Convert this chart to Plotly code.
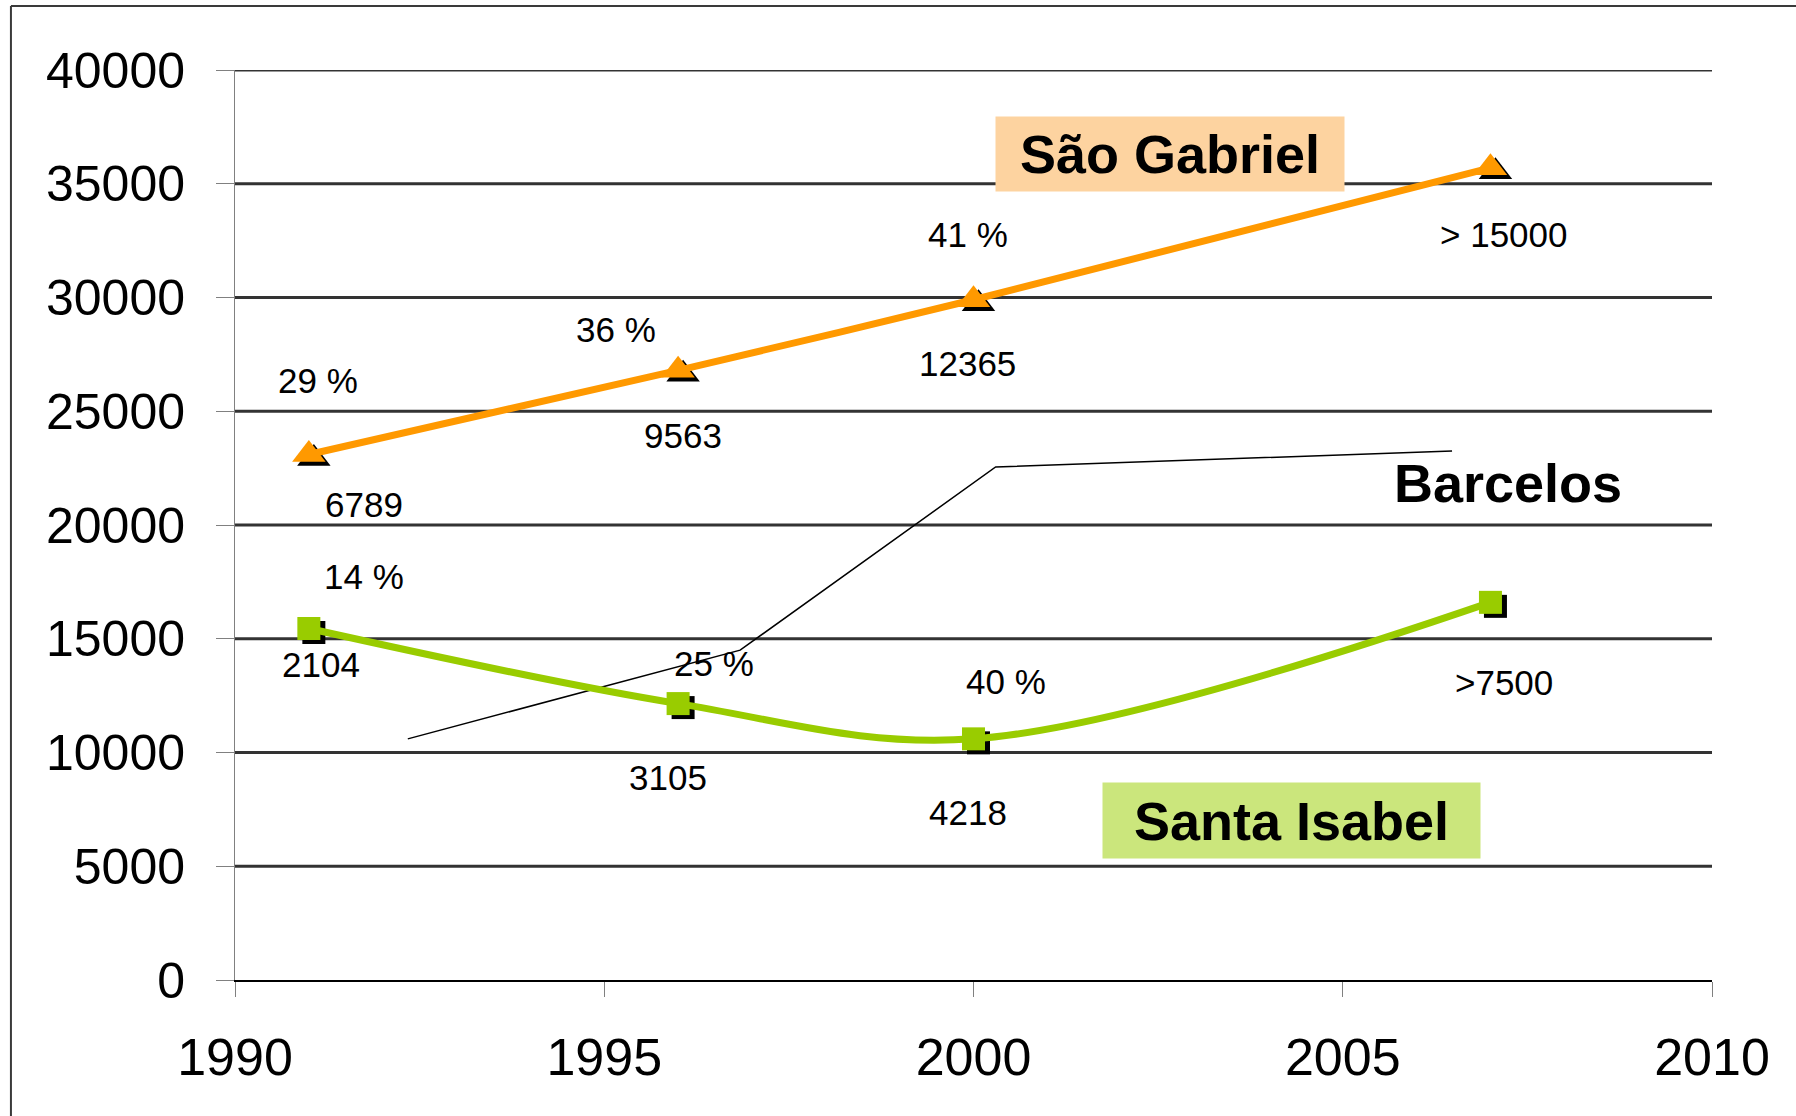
import plotly.graph_objects as go

# ---------------- data ----------------
years = [1991, 1996, 2000, 2007]
sao_gabriel = [23100, 26800, 29900, 35700]
santa_isabel = [15450, 12150, 10600, 16600]

sg_share = ["29 %", "36 %", "41 %"]
sg_counts = ["6789", "9563", "12365", "> 15000"]
si_share = ["14 %", "25 %", "40 %"]
si_counts = ["2104", "3105", "4218", ">7500"]

barcelos_years = [1992.34, 1996.84, 2000.3, 2006.48]
barcelos = [10600, 14500, 22550, 23250]

x_ticks = [1990, 1995, 2000, 2005, 2010]
y_ticks = [0, 5000, 10000, 15000, 20000, 25000, 30000, 35000, 40000]
y_tick_labels = ["0", "5000", "10000", "15000", "20000", "25000", "30000", "35000", "40000"]
x_tick_labels = ["1990", "1995", "2000", "2005", "2010"]

series_names = ["São Gabriel", "Santa Isabel", "Barcelos"]

# ---------------- style ----------------
ORANGE = "#FF9900"
GREEN = "#99CC00"
FONT = "Liberation Sans, Arial, sans-serif"
X_RANGE = [1990, 2010]
Y_RANGE = [0, 40000]
PX_PER_YEAR = 1477 / 20.0
UNITS_PER_PX = 40000 / 910.0
SH_X = 5 / PX_PER_YEAR      # shadow offset (right)
SH_Y = 4 * UNITS_PER_PX     # shadow offset (down)

fig = go.Figure()

# Barcelos (thin black line) on base axes
fig.add_trace(go.Scatter(x=barcelos_years, y=barcelos, mode="lines",
                         line=dict(color="black", width=1.5),
                         name=series_names[2], showlegend=False,
                         hoverinfo="skip"))

# marker shadows on shifted overlay axes
fig.add_trace(go.Scatter(x=years, y=sao_gabriel, mode="markers", xaxis="x2", yaxis="y2",
                         marker=dict(symbol="triangle-up", size=29, color="black"),
                         showlegend=False, hoverinfo="skip"))
fig.add_trace(go.Scatter(x=years, y=santa_isabel, mode="markers", xaxis="x2", yaxis="y2",
                         marker=dict(symbol="square", size=23, color="black"),
                         showlegend=False, hoverinfo="skip"))

# main series on an unshifted overlay
fig.add_trace(go.Scatter(x=years, y=sao_gabriel, mode="lines+markers", xaxis="x3", yaxis="y3",
                         line=dict(color=ORANGE, width=7, shape="spline", smoothing=0.8),
                         marker=dict(symbol="triangle-up", size=29, color=ORANGE),
                         name=series_names[0], showlegend=False))
fig.add_trace(go.Scatter(x=years, y=santa_isabel, mode="lines+markers", xaxis="x3", yaxis="y3",
                         line=dict(color=GREEN, width=7, shape="spline", smoothing=1.0),
                         marker=dict(symbol="square", size=23, color=GREEN),
                         name=series_names[1], showlegend=False))

# gridlines as shapes (from tick array)
shapes = []
for v in y_ticks[1:]:
    shapes.append(dict(type="line", xref="paper", yref="y", x0=0, x1=1, y0=v, y1=v,
                       line=dict(color="#333333", width=3), layer="below"))
# outer frame (left + top)
shapes.append(dict(type="line", xref="paper", yref="paper", x0=-0.1517, x1=-0.1517,
                   y0=-0.16, y1=1.0703, line=dict(color="#3a3a3a", width=2)))
shapes.append(dict(type="line", xref="paper", yref="paper", x0=-0.1517, x1=1.07,
                   y0=1.0703, y1=1.0703, line=dict(color="#3a3a3a", width=2)))

# data labels
ann = []
lab_font = dict(family=FONT, size=35, color="black")
sg_share_off = [(9, 74), (-62, 41), (-6, 65)]
sg_count_off = [(55, -50), (5, -65), (-6, -64), (14, -67)]
si_share_off = [(55, 52), (36, 40), (32, 57)]
si_count_off = [(12, -36), (-10, -74), (-6, -74), (14, -80)]
for i, t in enumerate(sg_share):
    ann.append(dict(x=years[i], y=sao_gabriel[i], xref="x", yref="y", text=t, showarrow=False,
                    xshift=sg_share_off[i][0], yshift=sg_share_off[i][1], font=lab_font))
for i, t in enumerate(sg_counts):
    ann.append(dict(x=years[i], y=sao_gabriel[i], xref="x", yref="y", text=t, showarrow=False,
                    xshift=sg_count_off[i][0], yshift=sg_count_off[i][1], font=lab_font))
for i, t in enumerate(si_share):
    ann.append(dict(x=years[i], y=santa_isabel[i], xref="x", yref="y", text=t, showarrow=False,
                    xshift=si_share_off[i][0], yshift=si_share_off[i][1], font=lab_font))
for i, t in enumerate(si_counts):
    ann.append(dict(x=years[i], y=santa_isabel[i], xref="x", yref="y", text=t, showarrow=False,
                    xshift=si_count_off[i][0], yshift=si_count_off[i][1], font=lab_font))

# series name boxes
big = dict(family=FONT, size=54, color="black")
ann.append(dict(x=0.633, y=0.9077, xref="paper", yref="paper", text="<b>" + series_names[0] + "</b>",
                showarrow=False, font=big, bgcolor="#FDD3A0", width=346, height=72,
                xanchor="center", yanchor="middle"))
ann.append(dict(x=0.715, y=0.1758, xref="paper", yref="paper", text="<b>" + series_names[1] + "</b>",
                showarrow=False, font=big, bgcolor="#CBE67C", width=375, height=73,
                xanchor="center", yanchor="middle"))
ann.append(dict(x=0.862, y=0.546, xref="paper", yref="paper", text="<b>" + series_names[2] + "</b>",
                showarrow=False, font=big, xanchor="center", yanchor="middle"))

fig.update_layout(
    width=1796, height=1116,
    margin=dict(l=235, r=84, t=70, b=136, pad=0),
    paper_bgcolor="white", plot_bgcolor="white",
    showlegend=False,
    shapes=shapes, annotations=ann,
    xaxis=dict(range=X_RANGE, tickvals=x_ticks, ticktext=x_tick_labels, ticks="outside",
               ticklen=15, tickwidth=1,
               tickcolor="#808080", showgrid=False, zeroline=False, showline=True,
               linecolor="black", linewidth=2, tickfont=dict(family=FONT, size=52, color="black"),
               ticklabelstandoff=16),
    yaxis=dict(range=Y_RANGE, tickvals=y_ticks, ticktext=y_tick_labels, ticks="outside",
               ticklen=18, tickwidth=1,
               tickcolor="#808080", showgrid=False, zeroline=False, showline=True,
               linecolor="#808080", linewidth=1, tickfont=dict(family=FONT, size=50, color="black"),
               ticklabelstandoff=21),
    xaxis2=dict(range=[X_RANGE[0] - SH_X, X_RANGE[1] - SH_X], overlaying="x", visible=False),
    yaxis2=dict(range=[Y_RANGE[0] + SH_Y, Y_RANGE[1] + SH_Y], overlaying="y", visible=False),
    xaxis3=dict(range=X_RANGE, overlaying="x", visible=False),
    yaxis3=dict(range=Y_RANGE, overlaying="y", visible=False),
)

fig.write_html("out.html", config={"displayModeBar": False},
               post_script="document.body.style.margin='0';document.body.style.overflow='hidden';")
